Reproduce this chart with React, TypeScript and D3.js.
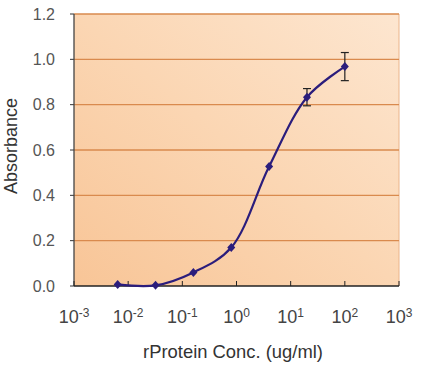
import React from "react";
import * as d3 from "d3";

const concentrations = [0.0064, 0.032, 0.16, 0.8, 4, 20, 100];
const absorbance = [0.007, 0.003, 0.06, 0.17, 0.527, 0.833, 0.968];
const errors = [0, 0, 0, 0, 0, 0.038, 0.062];
const yTicks = [0, 0.2, 0.4, 0.6, 0.8, 1.0, 1.2];
const xExponents = [-3, -2, -1, 0, 1, 2, 3];

const W = 426;
const H = 378;
const M = { left: 74, top: 14, right: 399, bottom: 286 };

export default function App() {
  const x = d3.scaleLog().domain([1e-3, 1e3]).range([M.left, M.right]);
  const y = d3.scaleLinear().domain([0, 1.2]).range([M.bottom, M.top]);
  const pts = concentrations.map((c, i) => [x(c), y(absorbance[i])] as [number, number]);
  const line = d3.line().curve(d3.curveCatmullRom.alpha(0.5))(pts) || "";
  const navy = "#2b1d7c";
  const font = "Liberation Sans, Arial, sans-serif";
  return (
    <svg width={W} height={H} style={{ position: "absolute", left: 0, top: 0, background: "#fff" }}>
      <defs>
        <linearGradient id="bg" x1="0" y1="1" x2="1" y2="0">
          <stop offset="0" stopColor="#f8c597" />
          <stop offset="0.5" stopColor="#fbd6b3" />
          <stop offset="1" stopColor="#fde6d0" />
        </linearGradient>
      </defs>
      <rect x={M.left} y={M.top} width={M.right - M.left} height={M.bottom - M.top} fill="url(#bg)" />
      <line x1={M.right} x2={M.right} y1={M.top} y2={M.bottom} stroke="#eab48a" strokeWidth={1} />
      {yTicks.map((t) => (
        <g key={t}>
          {t > 0 && (
            <line x1={M.left} x2={M.right} y1={y(t)} y2={y(t)} stroke="#d98a4e" strokeWidth={1.3} />
          )}
          <line x1={M.left - 4} x2={M.left} y1={y(t)} y2={y(t)} stroke="#333" strokeWidth={1} />
          <text x={M.left - 19} y={y(t)} dy="0.36em" textAnchor="end" fontFamily={font} fontSize={16} fill="#555">
            {t.toFixed(1)}
          </text>
        </g>
      ))}
      <line x1={M.left} x2={M.left} y1={M.top} y2={M.bottom} stroke="#444" strokeWidth={1.3} />
      <line x1={M.left} x2={M.right} y1={M.bottom} y2={M.bottom} stroke="#222" strokeWidth={1.5} />
      {xExponents.map((e) => (
        <g key={e}>
          <line x1={x(Math.pow(10, e))} x2={x(Math.pow(10, e))} y1={M.bottom} y2={M.bottom - 5} stroke="#222" strokeWidth={1} />
          <text x={x(Math.pow(10, e))} y={323} textAnchor="middle" fontFamily={font} fontSize={18} fill="#444">
            10
            <tspan dy={-6} fontSize={12}>{e}</tspan>
          </text>
        </g>
      ))}
      <path d={line} fill="none" stroke={navy} strokeWidth={2.2} />
      {concentrations.map((c, i) =>
        errors[i] > 0 ? (
          <g key={"e" + i} stroke="#222" strokeWidth={1.2}>
            <line x1={x(c)} x2={x(c)} y1={y(absorbance[i] - errors[i])} y2={y(absorbance[i] + errors[i])} />
            <line x1={x(c) - 4} x2={x(c) + 4} y1={y(absorbance[i] - errors[i])} y2={y(absorbance[i] - errors[i])} />
            <line x1={x(c) - 4} x2={x(c) + 4} y1={y(absorbance[i] + errors[i])} y2={y(absorbance[i] + errors[i])} />
          </g>
        ) : null
      )}
      {pts.map(([px, py], i) => (
        <path key={i} d={`M${px},${py - 4.5}L${px + 4},${py}L${px},${py + 4.5}L${px - 4},${py}Z`} fill={navy} />
      ))}
      <text x={233} y={358} textAnchor="middle" fontFamily={font} fontSize={18.4} fill="#333">
        rProtein Conc. (ug/ml)
      </text>
      <text transform="translate(17,146) rotate(-90)" textAnchor="middle" fontFamily={font} fontSize={18} fill="#333">
        Absorbance
      </text>
    </svg>
  );
}
